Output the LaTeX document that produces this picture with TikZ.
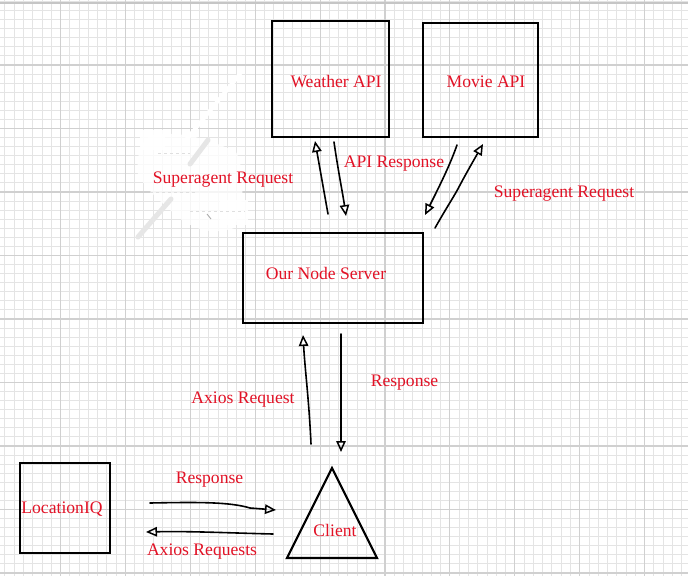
\documentclass[tikz,border=0pt]{standalone}
\usepackage{fontspec}
\setmainfont{Liberation Serif}
\usetikzlibrary{arrows.meta}
\definecolor{txtred}{RGB}{226,18,38}
\definecolor{gridminor}{RGB}{228,228,228}
\definecolor{gridmajor}{RGB}{208,208,208}
\definecolor{smudge}{RGB}{230,230,230}
\tikzset{
  boxnode/.style={draw=black, line width=2.4pt, inner sep=0pt},
  label/.style={text=txtred, font=\fontsize{17.6}{20}\selectfont, anchor=base, inner sep=0pt},
  handarrow/.style={draw=black, line width=1.6pt, line cap=round,
    -{Triangle[open, length=11pt, width=9.5pt, line width=1.5pt]}},
}
\begin{document}
\begin{tikzpicture}[x=1pt, y=-1pt]
\useasboundingbox (0,0) rectangle (688,576);
\fill[white] (0,0) rectangle (688,576);
% grid
\foreach \i in {0,...,75} {
  \pgfmathsetmacro{\gx}{-4.4+\i*64.9/7}
  \draw[gridminor, line width=0.9pt] (\gx,0) -- (\gx,576);
}
\foreach \i in {0,...,64} {
  \pgfmathsetmacro{\gy}{1.5+\i*63.5/7}
  \draw[gridminor, line width=0.9pt] (0,\gy) -- (688,\gy);
}
\foreach \i in {1,...,10} {
  \pgfmathsetmacro{\gx}{-4.4+\i*64.9}
  \draw[gridmajor, line width=1.1pt] (\gx,0) -- (\gx,576);
}
\foreach \i in {1,...,9} {
  \pgfmathsetmacro{\gy}{1.5+\i*63.5}
  \draw[gridmajor, line width=1.1pt] (0,\gy) -- (688,\gy);
}
\draw[gray!45, line width=2pt] (0,2.5) -- (688,2.5);
% erased strokes (smudge)
\draw[white, line width=4pt, line cap=round] (240,74) -- (186,140);
\fill[white, opacity=0.8] (150,136) .. controls (175,130) and (205,137) .. (236,152)
  .. controls (246,172) and (244,205) .. (234,228)
  .. controls (218,234) and (200,232) .. (182,220)
  .. controls (164,205) and (146,190) .. (138,174)
  .. controls (136,158) and (140,142) .. (150,136) -- cycle;
\fill[white, opacity=0.9] (220,200) rectangle (248,225);
\fill[white, opacity=0.9] (140,130) rectangle (165,150);
\draw[gray!25, dashed, line width=0.8pt] (158,153) -- (190,153);
\draw[gray!25, dashed, line width=0.8pt] (150,192) -- (195,192);
\draw[gray!25, dashed, line width=0.8pt] (190,211) -- (245,211);
\draw[smudge, line width=5pt, line cap=round] (208,140) -- (190,164);
\draw[smudge, line width=5pt, line cap=round] (171,199) -- (138,237);
\draw[gray!70, line width=0.8pt] (207,214) -- (211,219);
% boxes
\node[boxnode, minimum width=117pt, minimum height=116pt] (weather) at (330.5,79) {};
\node[boxnode, minimum width=115pt, minimum height=114pt] (movie) at (480.5,80) {};
\node[boxnode, minimum width=180pt, minimum height=90pt] (server) at (333,278) {};
\node[boxnode, minimum width=90pt, minimum height=90pt] (lociq) at (65,508) {};
\coordinate (cTop) at (332,468);
\coordinate (cLeft) at (287,558);
\coordinate (cRight) at (377,558);
\draw[black, line width=2.2pt, line join=miter] (cTop) -- (cLeft) -- (cRight) -- cycle;
% box labels
\node[label] (tweather) at (336,87.5) {Weather API};
\node[label] (tmovie) at (486,87) {Movie API};
\node[label] (tserver) at (326,279) {Our Node Server};
\node[label] (tloc) at (62,513) {LocationIQ};
\node[label] (tclient) at (335,536) {Client};
% connector labels
\node[label] (lsreq1) at (223,183) {Superagent Request};
\node[label] (lapires) at (394,167) {API Response};
\node[label] (lsreq2) at (564,197) {Superagent Request};
\node[label] (laxreq) at (243,403) {Axios Request};
\node[label] (lres1) at (404.5,386) {Response};
\node[label] (lres2) at (209.5,483) {Response};
\node[label] (laxreqs) at (202,555) {Axios Requests};
% arrow endpoints
\coordinate (wreqS) at (328,214); \coordinate (wreqE) at (315,141);
\coordinate (wresS) at (334,142); \coordinate (wresE) at (346,216);
\coordinate (mresS) at (457,145); \coordinate (mresE) at (425,215);
\coordinate (mreqS) at (435,228); \coordinate (mreqE) at (483,144);
\coordinate (axS) at (311,444); \coordinate (axE) at (303,335);
\coordinate (rsS) at (341,334); \coordinate (rsE) at (341,452);
\coordinate (brS) at (150,503); \coordinate (brE) at (276,510);
\coordinate (baS) at (273,534); \coordinate (baE) at (146,532);
% arrows
\draw[handarrow] (wreqS) -- (wreqE);
\draw[handarrow] (wresS) .. controls (338,170) and (343,195) .. (wresE);
\draw[handarrow] (mresS) .. controls (450,165) and (440,185) .. (mresE);
\draw[handarrow] (mreqS) .. controls (448,205) and (455,195) .. (460,185) .. controls (468,170) and (475,158) .. (mreqE);
\draw[handarrow] (axS) .. controls (309,400) and (305,370) .. (axE);
\draw[handarrow] (rsS) -- (rsE);
\draw[handarrow] (brS) .. controls (200,502) and (230,502) .. (250,508) -- (brE);
\draw[handarrow] (baS) .. controls (230,533) and (190,531) .. (baE);
\end{tikzpicture}
\end{document}
